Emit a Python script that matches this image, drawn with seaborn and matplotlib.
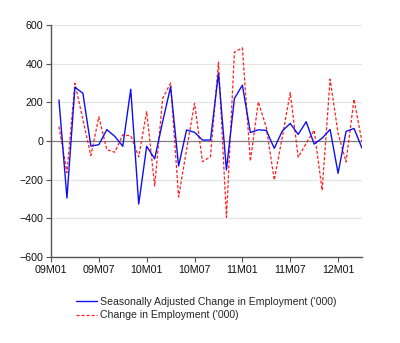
import numpy as np
import pandas as pd
import matplotlib
matplotlib.use("Agg")
import matplotlib.pyplot as plt
import seaborn as sns

# Monthly observations 2009M02 .. 2012M04
periods = pd.period_range("2009-02", periods=39, freq="M")

sa_change = [212, -295, 278, 247, -26, -19, 59, 24, -27, 268,
             -326, -27, -92, 100, 280, -129, 57, 45, 5, 5,
             350, -150, 220, 289, 44, 58, 55, -38, 52, 91,
             34, 100, -16, 15, 60, -167, 50, 65, -37]
raw_change = [75, -164, 299, 110, -75, 125, -45, -58, 32, 27,
              -82, 152, -232, 220, 300, -290, -45, 195, -107, -81,
              408, -395, 460, 482, -104, 203, 70, -202, 20, 250,
              -84, -12, 56, -255, 320, 40, -108, 216, -5]

tick_labels = ["09M01", "09M07", "10M01", "10M07", "11M01", "11M07", "12M01"]
y_ticks = [-600, -400, -200, 0, 200, 400, 600]

sa_name = "Seasonally Adjusted Change in Employment ('000)"
raw_name = "Change in Employment ('000)"

base = pd.Period("2009-01", freq="M")
pos = [(p - base).n for p in periods]
df = pd.DataFrame({
    "pos": pos * 2,
    "value": sa_change + raw_change,
    "series": [sa_name] * len(pos) + [raw_name] * len(pos),
})

sns.set_theme(style="white")
plt.rcParams["font.family"] = ["Liberation Sans", "DejaVu Sans"]

fig = plt.figure(figsize=(4.0, 3.43), dpi=100)
ax = fig.add_axes([0.1275, 0.2507, 0.7775, 0.6763])

for y in y_ticks:
    if y != 0:
        ax.axhline(y, color="#e4e4e4", lw=0.9, zorder=0)
ax.axhline(0, color="#7f7f7f", lw=0.9, zorder=1)

sns.lineplot(data=df[df.series == sa_name], x="pos", y="value", ax=ax,
             color="#1010ee", lw=1.0, label=sa_name, zorder=3)
sns.lineplot(data=df[df.series == raw_name], x="pos", y="value", ax=ax,
             color="#ff2020", lw=0.9, linestyle=(0, (2.5, 1.5)), label=raw_name, zorder=2)

ax.set_xlim(0, 39)
ax.set_ylim(-600, 600)
ax.set_xticks([0, 6, 12, 18, 24, 30, 36])
ax.set_xticklabels(tick_labels)
ax.set_yticks(y_ticks)
ax.set_xlabel("")
ax.set_ylabel("")

for s in ["top", "right"]:
    ax.spines[s].set_visible(False)
for s in ["left", "bottom"]:
    ax.spines[s].set_color("#555555")
    ax.spines[s].set_linewidth(1.0)
ax.tick_params(axis="both", direction="out", length=3.5, width=0.8,
               color="#555555", labelsize=7.7, labelcolor="#111111", pad=2,
               left=True, bottom=True)

leg = ax.legend(loc="upper center", bbox_to_anchor=(0.5, -0.155), frameon=False,
                fontsize=7.6, handlelength=2.0, handletextpad=0.25,
                labelspacing=0.3, borderaxespad=0)

fig.savefig("out.png", dpi=100)
